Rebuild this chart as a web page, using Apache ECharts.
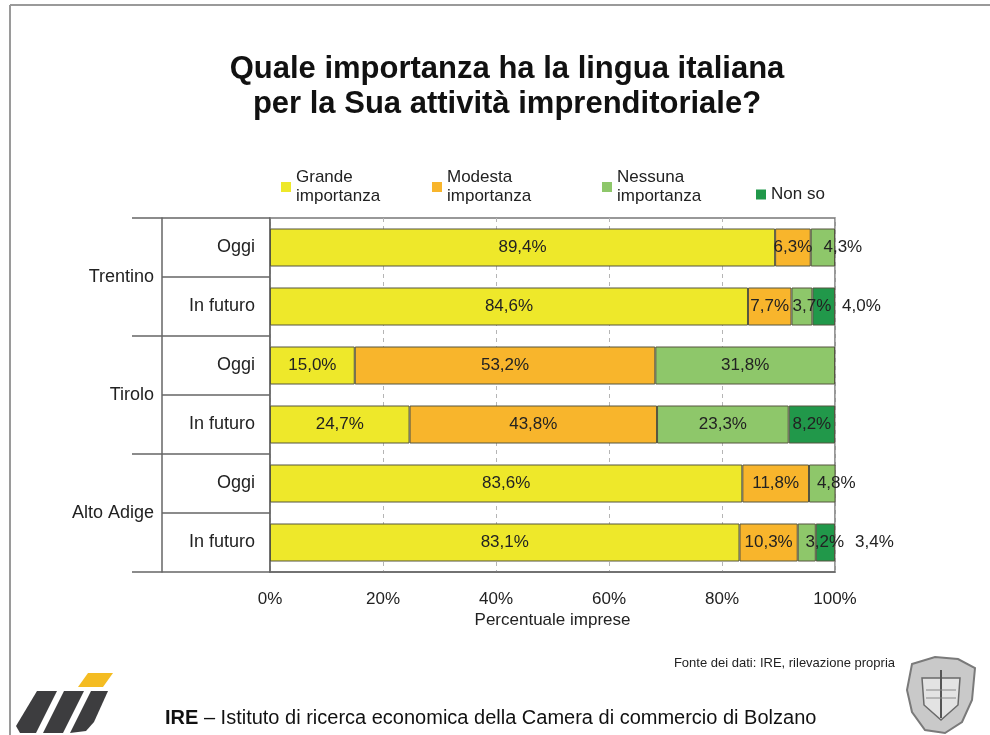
<!DOCTYPE html>
<html>
<head>
<meta charset="utf-8">
<script src="https://cdn.jsdelivr.net/npm/echarts@6/dist/echarts.min.js"></script>
<style>
html,body{margin:0;padding:0;background:#fff;}
#chart{width:990px;height:735px;}
</style>
</head>
<body>
<div id="chart"></div>
<script>
// ---- data ----
const groups = ['Trentino', 'Tirolo', 'Alto Adige'];
const periods = ['Oggi', 'In futuro'];
const seriesNames = ['Grande importanza', 'Modesta importanza', 'Nessuna importanza', 'Non so'];
const grande  = [89.4, 84.6, 15.0, 24.7, 83.6, 83.1];
const modesta = [6.3, 7.7, 53.2, 43.8, 11.8, 10.3];
const nessuna = [4.3, 3.7, 31.8, 23.3, 4.8, 3.2];
const nonSo   = [null, 4.0, null, 8.2, null, 3.4];
const xTickValues = [0, 20, 40, 60, 80, 100];
const titleLines = ['Quale importanza ha la lingua italiana', 'per la Sua attività imprenditoriale?'];
const axisName = 'Percentuale imprese';
const sourceText = 'Fonte dei dati: IRE, rilevazione propria';
const footerBold = 'IRE';
const footerText = ' – Istituto di ricerca economica della Camera di commercio di Bolzano';

// ---- build ----
const FONT = 'Liberation Sans, Arial, sans-serif';
const colors = ['#eee82a', '#f8b52c', '#8ec76a', '#21984a'];
const categories = groups.flatMap(g => periods.map(p => g + '|' + p));
const values = [grande, modesta, nessuna, nonSo];

// label placement tweaks (style only)
const labelTweaks = {
  2: {0: {offset: [20, 0]}, 1: {offset: [10, 0]}, 4: {offset: [14, 0]}, 5: {offset: [18, 0]}},
  3: {1: {position: 'right', distance: 7}, 5: {position: 'right', distance: 20}}
};

const fmt = v => (v == null ? '' : v.toFixed(1).replace('.', ',') + '%');

const series = seriesNames.map((name, si) => ({
  name: name,
  type: 'bar',
  stack: 'total',
  barWidth: 38,
  clip: true,
  itemStyle: {color: colors[si], borderColor: '#55553f', borderWidth: 1},
  label: {
    show: true,
    position: 'inside',
    fontFamily: FONT,
    fontSize: 17,
    color: '#222',
    formatter: p => fmt(p.value)
  },
  data: values[si].map((v, i) => {
    const t = labelTweaks[si] && labelTweaks[si][i];
    return t ? {value: v, label: t} : v;
  })
}));

function legendFor(idx, left, top, twoLines) {
  return {
    data: [seriesNames[idx]],
    left: left,
    top: top,
    padding: 0,
    orient: 'horizontal',
    itemWidth: 10,
    itemHeight: 10,
    icon: 'rect',
    selectedMode: false,
    itemStyle: {borderWidth: 0},
    formatter: n => twoLines ? n.replace(' ', '\n') : n,
    textStyle: {fontFamily: FONT, fontSize: 17, lineHeight: 19, color: '#222'}
  };
}

const chart = echarts.init(document.getElementById('chart'), null, {renderer: 'canvas'});
chart.setOption({
  backgroundColor: '#fff',
  animation: false,
  title: {
    text: titleLines.join('\n'),
    left: 502,
    top: 47,
    textAlign: 'center',
    textStyle: {fontFamily: FONT, fontSize: 31, fontWeight: 'bold', color: '#111', lineHeight: 35}
  },
  legend: [
    legendFor(0, 281, 168, true),
    legendFor(1, 432, 168, true),
    legendFor(2, 602, 168, true),
    legendFor(3, 756, 185, false)
  ],
  grid: {
    left: 270, right: 155, top: 218, bottom: 163,
    show: true, borderColor: '#777', borderWidth: 1.5, backgroundColor: 'transparent'
  },
  xAxis: {
    type: 'value',
    min: 0, max: 100, interval: 20,
    axisLine: {show: true, lineStyle: {color: '#666', width: 1.5}},
    axisTick: {show: false},
    splitLine: {show: true, lineStyle: {color: '#b5b5b5', type: [4, 4], width: 1}},
    axisLabel: {
      fontFamily: FONT, fontSize: 17, color: '#222', margin: 19,
      formatter: v => (xTickValues.indexOf(v) >= 0 ? v + '%' : '')
    },
    name: axisName,
    nameLocation: 'middle',
    nameGap: 40,
    nameTextStyle: {fontFamily: FONT, fontSize: 17, color: '#222'}
  },
  yAxis: [
    {
      type: 'category',
      data: categories,
      inverse: true,
      position: 'left',
      axisLine: {show: true, lineStyle: {color: '#666', width: 1.5}},
      axisTick: {show: true, length: 108, lineStyle: {color: '#666', width: 1.5}},
      axisLabel: {fontFamily: FONT, fontSize: 18, color: '#222', margin: 15, formatter: v => v.split('|')[1]},
      splitLine: {show: false}
    },
    {
      type: 'category',
      data: groups,
      inverse: true,
      position: 'left',
      offset: 108,
      axisLine: {show: true, lineStyle: {color: '#666', width: 1.5}},
      axisTick: {show: true, length: 30, lineStyle: {color: '#666', width: 1.5}},
      axisLabel: {fontFamily: FONT, fontSize: 18, color: '#222', margin: 8, padding: [0, 0, 8, 0]},
      splitLine: {show: false}
    }
  ],
  series: series,
  graphic: [
    // frame
    {type: 'line', shape: {x1: 10, y1: 5, x2: 990, y2: 5}, style: {stroke: '#9a9a9a', lineWidth: 2}},
    {type: 'line', shape: {x1: 10, y1: 5, x2: 10, y2: 735}, style: {stroke: '#9a9a9a', lineWidth: 2}},
    // source
    {type: 'text', x: 895, y: 663, style: {text: sourceText, align: 'right', verticalAlign: 'middle', fontFamily: FONT, fontSize: 13, fill: '#222'}},
    // footer
    {type: 'text', x: 165, y: 718, style: {
      text: '{b|' + footerBold + '}{n|' + footerText + '}',
      verticalAlign: 'middle',
      rich: {
        b: {fontFamily: FONT, fontSize: 20, fontWeight: 'bold', fill: '#111'},
        n: {fontFamily: FONT, fontSize: 20, fill: '#111'}
      }
    }},
    // IRE logo
    {type: 'polygon', shape: {points: [[88, 673], [113, 673], [103, 687], [78, 687]]}, style: {fill: '#f4bc22'}},
    {type: 'polygon', shape: {points: [[37, 691], [57, 691], [36, 733], [20, 733], [16, 726]]}, style: {fill: '#3d3d3f'}},
    {type: 'polygon', shape: {points: [[64, 691], [84, 691], [63, 733], [43, 733]]}, style: {fill: '#3d3d3f'}},
    {type: 'polygon', shape: {points: [[91, 691], [108, 691], [94, 722], [86, 731], [70, 733]]}, style: {fill: '#3d3d3f'}},
    // crest
    {type: 'polygon', shape: {points: [[912, 664], [935, 657], [958, 659], [975, 668], [972, 700], [962, 722], [945, 733], [925, 730], [912, 712], [907, 690]]},
      style: {fill: '#c9c9c9', stroke: '#7a7a7a', lineWidth: 2}},
    {type: 'polygon', shape: {points: [[922, 678], [960, 678], [958, 705], [941, 720], [924, 705]]}, style: {fill: '#e3e3e3', stroke: '#6a6a6a', lineWidth: 1.5}},
    {type: 'line', shape: {x1: 941, y1: 670, x2: 941, y2: 718}, style: {stroke: '#555', lineWidth: 2}},
    {type: 'line', shape: {x1: 926, y1: 690, x2: 956, y2: 690}, style: {stroke: '#888', lineWidth: 1}},
    {type: 'line', shape: {x1: 926, y1: 698, x2: 956, y2: 698}, style: {stroke: '#888', lineWidth: 1}}
  ]
});
</script>
</body>
</html>
